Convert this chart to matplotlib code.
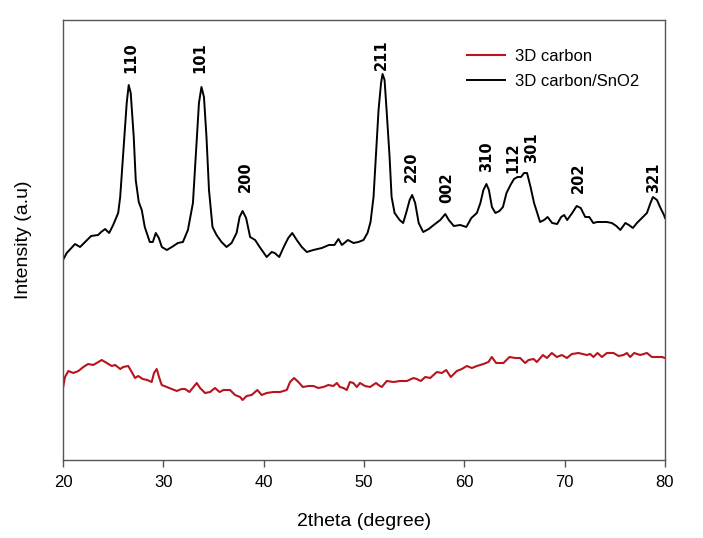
import matplotlib
matplotlib.use("Agg")
import matplotlib.pyplot as plt

# 3D carbon/SnO2 pattern (2theta in degrees, intensity in a.u.)
snO2_theta = [
    20.0, 20.37, 21.2, 21.7, 22.2, 22.8, 23.5, 23.8, 24.2, 24.6, 25.0, 25.5, 25.7,
    26.0, 26.35, 26.55, 26.75, 27.05, 27.25, 27.55, 27.85, 28.15, 28.65, 28.95,
    29.25, 29.55, 29.85, 30.35, 30.85, 31.45, 31.95, 32.45, 32.95, 33.25, 33.55,
    33.8, 34.05, 34.3, 34.55, 34.9, 35.3, 35.8, 36.3, 36.8, 37.3, 37.6, 37.9,
    38.25, 38.65, 39.15, 39.6, 40.3, 40.8, 41.1, 41.55, 42.0, 42.45, 42.85, 43.3,
    43.8, 44.3, 44.95, 45.8, 46.5, 47.05, 47.45, 47.8, 48.4, 48.95, 49.45, 49.95,
    50.35, 50.65, 50.95, 51.2, 51.45, 51.7, 51.85, 52.05, 52.25, 52.55, 52.75,
    53.05, 53.55, 53.9, 54.2, 54.55, 54.8, 55.1, 55.45, 55.9, 56.45, 56.95, 57.6,
    58.1, 58.45, 58.95, 59.6, 60.2, 60.7, 61.25, 61.6, 61.9, 62.2, 62.45, 62.75,
    63.1, 63.5, 63.85, 64.2, 64.6, 64.95, 65.3, 65.65, 65.95, 66.25, 66.6, 66.95,
    67.4, 67.55, 67.95, 68.3, 68.75, 69.25, 69.65, 69.95, 70.25, 70.75, 71.2,
    71.6, 72.05, 72.45, 72.85, 73.25, 74.2, 74.7, 75.15, 75.55, 76.05, 76.4, 76.8,
    77.2, 77.7, 78.2, 78.55, 78.8, 79.2, 79.55, 79.9, 80.0,
]
snO2_int = [
    200, 207, 216, 213, 218, 224, 225, 228, 231, 227, 235, 247, 263,
    307, 357, 375, 367, 323, 280, 258, 250, 233, 218, 218,
    227, 222, 213, 210, 213, 217, 218, 230, 257, 307, 357,
    373, 363, 323, 270, 233, 225, 218, 213, 217, 227, 243, 249,
    242, 223, 220, 213, 203, 208, 207, 203, 213, 222, 227, 220,
    213, 208, 210, 212, 215, 215, 221, 215, 220, 217, 218, 220,
    227, 238, 263, 307, 350, 377, 386, 380, 350, 303, 263,
    247, 240, 237, 247, 260, 265, 257, 237, 228, 231, 235, 240,
    246, 240, 234, 235, 233, 242, 247, 257, 270, 276, 270, 253,
    247, 249, 253, 267, 275, 281, 283, 283, 287, 287, 273, 257,
    243, 238, 240, 243, 237, 236, 243, 245, 240, 247, 254,
    252, 243, 243, 237, 238, 238, 237, 234, 230, 237, 235, 232,
    237, 242, 247, 257, 263, 260, 252, 245, 242,
]

# 3D carbon pattern
carbon_theta = [
    20.0, 20.2, 20.53, 21.03, 21.53, 22.03, 22.5, 23.0, 23.36, 23.86, 24.36, 24.86,
    25.2, 25.7, 26.0, 26.5, 26.85, 27.18, 27.5, 27.95, 28.4, 28.84, 29.07, 29.34,
    29.57, 29.84, 30.34, 30.84, 31.34, 31.83, 32.16, 32.6, 33.0, 33.33, 33.66,
    34.16, 34.66, 35.15, 35.6, 36.0, 36.65, 37.15, 37.65, 37.9, 38.3, 38.8, 39.37,
    39.8, 40.3, 40.97, 41.63, 42.3, 42.63, 43.03, 43.46, 43.9, 44.46, 44.96, 45.45,
    45.95, 46.45, 46.95, 47.29, 47.6, 47.95, 48.28, 48.6, 48.94, 49.28, 49.6,
    50.1, 50.6, 51.2, 51.44, 51.77, 52.27, 52.93, 53.6, 54.27, 54.93, 55.26, 55.66,
    56.1, 56.6, 57.26, 57.76, 58.19, 58.65, 59.25, 59.75, 60.25, 60.75, 61.25,
    61.9, 62.4, 62.74, 63.17, 63.57, 63.9, 64.5, 65.07, 65.56, 66.06, 66.4, 66.9,
    67.23, 67.83, 68.23, 68.72, 69.22, 69.72, 70.22, 70.72, 71.38, 71.81, 72.21,
    72.54, 72.87, 73.27, 73.71, 74.21, 74.87, 75.37, 75.86, 76.2, 76.53, 76.93,
    77.53, 78.2, 78.69, 79.19, 79.69, 80.0,
]
carbon_int = [
    72, 83, 89, 87, 89, 93, 96, 95, 97, 100, 97, 94,
    95, 91, 93, 94, 88, 82, 84, 81, 80, 78, 87, 91,
    83, 75, 73, 71, 69, 71, 71, 68, 73, 77, 72,
    67, 68, 72, 68, 70, 70, 65, 63, 60, 64, 65, 70,
    65, 67, 68, 68, 70, 78, 82, 78, 73, 74, 74, 72,
    73, 75, 74, 77, 73, 72, 70, 78, 77, 73, 77,
    74, 73, 77, 75, 73, 79, 78, 79, 79, 82, 81, 79,
    83, 82, 88, 87, 90, 83, 89, 91, 94, 92, 94,
    96, 98, 103, 97, 97, 97, 103, 102, 102, 97, 100, 101,
    98, 105, 102, 107, 103, 105, 102, 106, 107, 106, 105,
    106, 103, 107, 103, 107, 107, 104, 105, 107, 103, 107,
    105, 107, 103, 103, 103, 102,
]

# peak labels: (hkl, 2theta, intensity of label base)
peak_hkl = ["110", "101", "200", "211", "220", "002", "310", "112", "301", "202", "321"]
peak_theta = [26.78, 33.66, 38.15, 51.78, 54.77, 58.26, 62.24, 64.84, 66.73, 71.38, 78.85]
peak_base = [387, 387, 268, 390, 278, 257, 288, 287, 297, 267, 267]

plt.rcParams["font.family"] = ["Liberation Sans", "DejaVu Sans"]

fig = plt.figure(figsize=(7.03, 5.38), dpi=100)
ax = fig.add_axes([63 / 703, 78 / 538, 602 / 703, 440 / 538])

ax.plot(carbon_theta, carbon_int, color="#b8141e", lw=1.5, label="3D carbon")
ax.plot(snO2_theta, snO2_int, color="black", lw=1.4, label="3D carbon/SnO2")

for hkl, t, b in zip(peak_hkl, peak_theta, peak_base):
    ax.text(t, b, hkl, rotation=90, ha="center", va="bottom",
            fontsize=10.5, fontweight="bold", family="DejaVu Sans")

ax.set_xlim(20, 80)
ax.set_ylim(0, 440)
ax.set_xticks(range(20, 81, 10))
ax.set_yticks([])
ax.tick_params(axis="x", direction="out", length=5, width=1, colors="#555555",
               labelcolor="black", labelsize=12, pad=6)
for s in ax.spines.values():
    s.set_color("#555555")
    s.set_linewidth(1)

ax.set_xlabel("2theta (degree)", fontsize=14, labelpad=16)
ax.set_ylabel("Intensity (a.u)", fontsize=14, labelpad=22)

ax.legend(loc="upper left", bbox_to_anchor=(0.671, 0.935), frameon=False,
          fontsize=12, handlelength=2.3, handletextpad=0.6, labelspacing=0.6,
          borderaxespad=0, borderpad=0)

fig.savefig("out.png", dpi=100)
